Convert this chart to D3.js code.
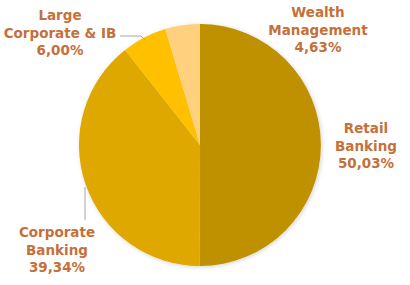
<!DOCTYPE html>
<html>
<head>
<meta charset="utf-8">
<script src="https://cdn.jsdelivr.net/npm/d3@7"></script>
<style>
  body { margin: 0; background: #fff; }
  svg text { font-family: "DejaVu Sans", sans-serif; font-weight: bold; fill: #C5703A; }
</style>
</head>
<body>
<svg id="chart" width="410" height="285"></svg>
<script>
// segments, clockwise from 12 o'clock
const segments = ["Retail Banking", "Corporate Banking", "Large Corporate & IB", "Wealth Management"];
const shares = [50.03, 39.34, 6.00, 4.63];
const labelLines = [["Retail", "Banking"], ["Corporate", "Banking"], ["Large", "Corporate & IB"], ["Wealth", "Management"]];
const colors = ["#BF9000", "#DFA800", "#FFC000", "#FFD17F"];

const cx = 200, cy = 145, radius = 121;

/**
 * Label anchor (centre of first line) for each segment
 */
const labelPos = [[366, 128], [57, 232], [60, 15], [318, 12]];

const svg = d3.select("#chart");

const defs = svg.append("defs");
const shadow = defs.append("filter").attr("id", "shadow")
    .attr("x", "-10%").attr("y", "-10%").attr("width", "120%").attr("height", "120%");
shadow.append("feDropShadow")
    .attr("dx", 1).attr("dy", 1).attr("stdDeviation", 2)
    .attr("flood-color", "#000").attr("flood-opacity", 0.18);

let pie = d3.pie().sort(null).value(d => d);
let arc = d3.arc().innerRadius(0).outerRadius(radius);
let arcs = pie(shares);

let g = svg.append("g")
    .attr("transform", "translate(" + cx + "," + cy + ")");

g.append("g").attr("filter", "url(#shadow)")
    .selectAll("path")
    .data(arcs)
    .enter()
    .append("path")
    .attr("d", arc)
    .attr("fill", (d, i) => colors[i]);

//Leader lines for the two labels placed away from the slice
let leaders = [
    [[85, 187], [85, 220]],
    [[120, 36], [141, 36], [145, 40]]
];
leaders.forEach(function (pts) {
    svg.append("path")
        .attr("d", d3.line()(pts))
        .attr("fill", "none")
        .attr("stroke", "#A6A6A6")
        .attr("stroke-width", 1);
});

let fmt = v => d3.format(".2f")(v).replace(".", ",") + "%";

segments.forEach(function (name, i) {
    let lines = labelLines[i].concat([fmt(shares[i])]);
    let t = svg.append("text")
        .attr("text-anchor", "middle")
        .attr("font-size", 13.5);
    lines.forEach(function (line, k) {
        t.append("tspan")
            .attr("x", labelPos[i][0])
            .attr("y", labelPos[i][1] + 5 + k * 17.5)
            .text(line);
    });
});
</script>
</body>
</html>
